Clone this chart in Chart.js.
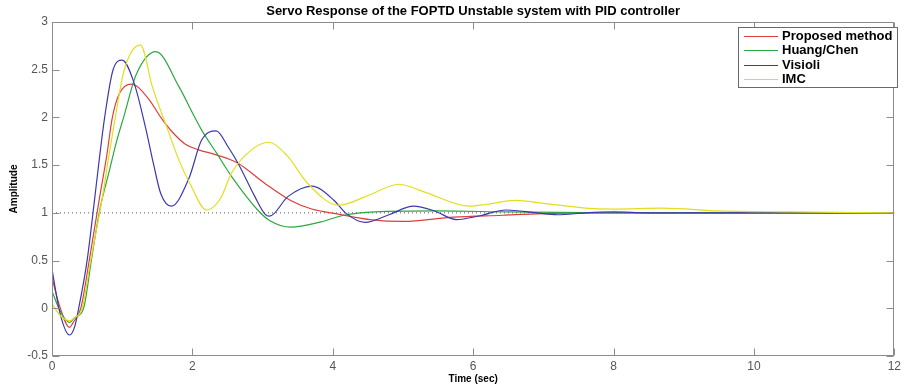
<!DOCTYPE html>
<html><head><meta charset="utf-8">
<script src="https://cdn.jsdelivr.net/npm/chart.js@4.4.1/dist/chart.umd.min.js"></script>
<style>html,body{margin:0;padding:0;background:#fff;}canvas{display:block;}</style>
</head><body>
<canvas id="c" width="904" height="385"></canvas>
<script>
const chartTitle = "Servo Response of the FOPTD Unstable system with PID controller";
const xTitle = "Time (sec)";
const yTitle = "Amplitude";
const xTickValues = [0, 2, 4, 6, 8, 10, 12];
const yTickValues = [-0.5, 0, 0.5, 1, 1.5, 2, 2.5, 3];
const seriesNames = ["Proposed method", "Huang/Chen", "Visioli", "IMC"];
const seriesColors = ["rgb(222,62,62)", "rgb(44,168,64)", "rgb(60,56,176)", "rgb(226,222,30)"];

const proposedT = [0,0.11,0.25,0.3,0.41,0.53,0.68,0.78,0.86,0.96,1.13,1.38,1.55,1.71,1.9,2.09,2.33,2.65,3.03,3.4,3.7,4.06,4.53,5.0,5.72,6.42,6.89,8,12];
const proposedY = [0.32,0.02,-0.2,-0.15,0,0.5,1.17,1.6,2.0,2.25,2.35,2.19,2.0,1.85,1.72,1.66,1.61,1.52,1.31,1.13,1.04,0.99,0.93,0.91,0.955,0.975,0.99,1.0,1.0];

const huangT = [0,0.11,0.25,0.32,0.45,0.56,0.68,0.82,0.92,1.02,1.2,1.48,1.81,2.0,2.13,2.35,2.56,2.93,3.1,3.4,3.83,4.16,4.6,5.5,6.5,8,12];
const huangY = [0.18,-0.02,-0.15,-0.1,0,0.5,1.03,1.45,1.75,2.0,2.45,2.69,2.32,2.05,1.87,1.62,1.38,1.03,0.92,0.85,0.905,0.975,1.01,1.02,1.01,1.0,1.0];

const visioliT = [0,0.11,0.25,0.32,0.38,0.5,0.6,0.68,0.75,0.87,1.0,1.17,1.34,1.45,1.55,1.7,1.95,2.13,2.34,2.51,2.65,2.89,3.03,3.1,3.36,3.7,4.02,4.18,4.46,4.8,5.15,5.45,5.76,6.1,6.47,6.9,7.2,7.6,8.0,8.5,12];
const visioliY = [0.41,-0.04,-0.28,-0.2,0,0.5,1.1,1.6,2.0,2.5,2.6,2.36,1.87,1.5,1.2,1.07,1.36,1.76,1.86,1.69,1.52,1.17,0.99,0.965,1.17,1.28,1.13,1.0,0.9,0.98,1.07,1.02,0.93,0.97,1.03,1.0,0.98,1.0,1.01,1.0,1.0];

const imcT = [0,0.11,0.25,0.32,0.43,0.55,0.72,0.8,0.89,1.03,1.26,1.43,1.65,1.81,1.97,2.2,2.4,2.56,2.84,3.08,3.35,3.64,4.08,4.5,4.94,5.3,5.95,6.2,6.6,7.0,7.6,8.0,8.7,9.5,10.5,12];
const imcY = [0.05,-0.07,-0.13,-0.1,0,0.5,1.17,1.55,1.95,2.5,2.76,2.32,1.87,1.55,1.3,1.03,1.15,1.42,1.66,1.74,1.6,1.31,1.08,1.18,1.3,1.22,1.07,1.09,1.13,1.1,1.05,1.04,1.05,1.02,1.01,1.0];

const setpointT = [0, 12];
const setpointY = [1, 1];

const FONT = "'Liberation Sans', Arial, Helvetica, sans-serif";
const pts = (t, v) => t.map((x, i) => ({x: x, y: v[i]}));
const seriesT = [proposedT, huangT, visioliT, imcT];
const seriesY = [proposedY, huangY, visioliY, imcY];

const datasets = seriesNames.map((name, i) => ({
  label: name,
  data: pts(seriesT[i], seriesY[i]),
  borderColor: seriesColors[i],
  borderWidth: 1.2,
  pointRadius: 0,
  fill: false,
  cubicInterpolationMode: 'monotone',
  order: 4 - i
}));
datasets.push({
  label: '_setpoint',
  data: pts(setpointT, setpointY),
  borderColor: '#555',
  borderWidth: 1,
  borderDash: [1, 3],
  pointRadius: 0,
  fill: false,
  order: 10
});

const framePlugin = {
  id: 'frame',
  afterDraw(chart) {
    const {ctx, chartArea: a, scales: {x, y}} = chart;
    ctx.save();
    const L = Math.round(a.left) + 0.5, R = Math.round(a.right) - 0.5;
    const T = Math.round(a.top) + 0.5, B = Math.round(a.bottom) - 0.5;
    ctx.strokeStyle = '#8c8c8c';
    ctx.lineWidth = 1;
    ctx.strokeRect(L, T, R - L, B - T);
    ctx.beginPath();
    x.ticks.forEach(t => {
      const px = Math.round(x.getPixelForValue(t.value)) + 0.5;
      ctx.moveTo(px, B); ctx.lineTo(px, B - 7);
      ctx.moveTo(px, T); ctx.lineTo(px, T + 7);
    });
    y.ticks.forEach(t => {
      const py = Math.round(y.getPixelForValue(t.value)) + 0.5;
      ctx.moveTo(L, py); ctx.lineTo(L + 7, py);
      ctx.moveTo(R, py); ctx.lineTo(R - 7, py);
    });
    ctx.stroke();

    // title
    ctx.fillStyle = '#000';
    ctx.font = 'bold 13px ' + FONT;
    ctx.textAlign = 'center';
    ctx.textBaseline = 'middle';
    ctx.fillText(chartTitle, (a.left + a.right) / 2, 11.5);

    // legend
    const bx = 738.5, by = 27.5, bw = 159, bh = 60;
    ctx.fillStyle = '#fff';
    ctx.fillRect(bx, by, bw, bh);
    ctx.strokeStyle = '#6a6a6a';
    ctx.strokeRect(bx, by, bw, bh);
    ctx.font = 'bold 13px ' + FONT;
    ctx.textAlign = 'left';
    chart.data.datasets.slice(0, 4).forEach((ds, i) => {
      const ry = 35.5 + i * 14.5;
      ctx.strokeStyle = ds.borderColor;
      ctx.lineWidth = 1.2;
      ctx.beginPath();
      ctx.moveTo(744, Math.round(ry) + 0.5);
      ctx.lineTo(778, Math.round(ry) + 0.5);
      ctx.stroke();
      ctx.fillStyle = '#000';
      ctx.fillText(ds.label, 782, ry + 0.5);
    });
    ctx.restore();
  }
};

new Chart(document.getElementById('c'), {
  type: 'line',
  data: {datasets: datasets},
  options: {
    responsive: false,
    animation: false,
    devicePixelRatio: 1,
    layout: {padding: {top: 22, right: 2, left: 0, bottom: 0}},
    plugins: {legend: {display: false}, title: {display: false}, tooltip: {enabled: false}},
    scales: {
      x: {
        type: 'linear', min: 0, max: 12,
        afterBuildTicks: s => { s.ticks = xTickValues.map(v => ({value: v})); },
        afterFit: s => { s.height = 29; },
        ticks: {color: '#555', font: {family: FONT, size: 12}, padding: 3, maxRotation: 0,
                callback: v => String(v)},
        grid: {display: false, drawTicks: false},
        border: {display: false},
        title: {display: true, text: xTitle, color: '#000', font: {family: FONT, size: 10, weight: 'bold'}, padding: {top: 1, bottom: 0}}
      },
      y: {
        type: 'linear', min: -0.5, max: 3,
        afterBuildTicks: s => { s.ticks = yTickValues.map(v => ({value: v})); },
        afterFit: s => { s.width = 52; },
        ticks: {color: '#555', font: {family: FONT, size: 12}, padding: 4,
                callback: v => String(v)},
        grid: {display: false, drawTicks: false},
        border: {display: false},
        title: {display: true, text: yTitle, color: '#000', font: {family: FONT, size: 10, weight: 'bold'}, padding: {top: 8, bottom: 0}}
      }
    }
  },
  plugins: [framePlugin]
});
</script>
</body></html>
